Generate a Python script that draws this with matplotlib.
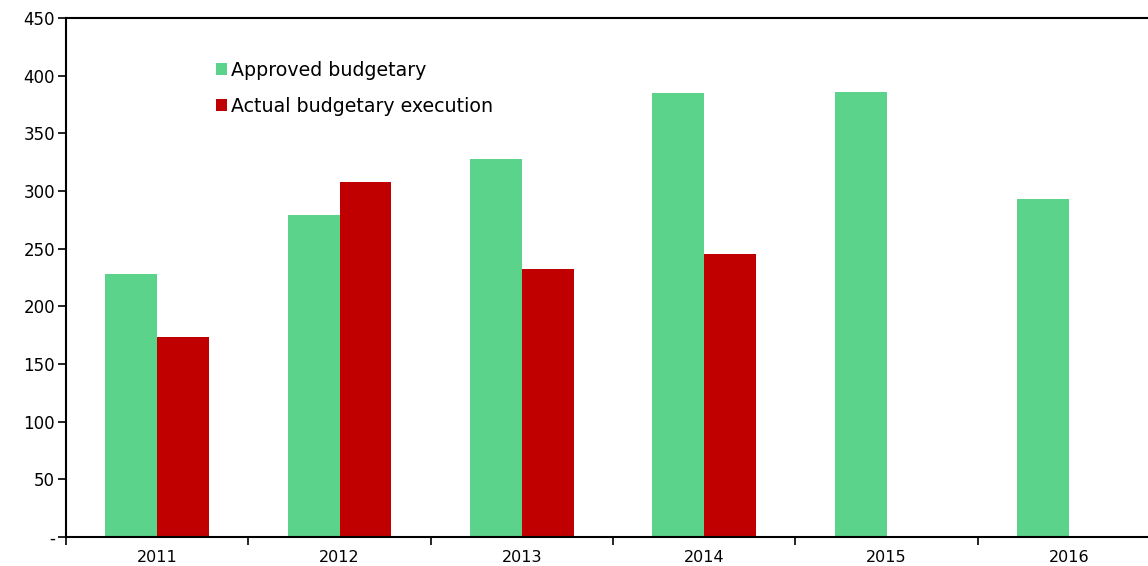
import matplotlib
matplotlib.use("Agg")
import matplotlib.pyplot as plt
import numpy as np

years = ["2011", "2012", "2013", "2014", "2015", "2016"]
approved = [228, 279, 328, 385, 386, 293]
actual = [173, 308, 232, 245, np.nan, np.nan]
series_names = ["Approved budgetary", "Actual budgetary execution"]
yticks = [0, 50, 100, 150, 200, 250, 300, 350, 400, 450]
ytick_labels = ["-", "50", "100", "150", "200", "250", "300", "350", "400", "450"]

plt.rcParams['font.family'] = ['DejaVu Sans']
fig = plt.figure(figsize=(11.48, 5.66), dpi=100)
W, H = 1148, 566
ax = fig.add_axes([66 / W, (H - 537) / H, (1160 - 66) / W, (537 - 18) / H])

x = np.arange(len(years))
bw = 0.285
green = "#5CD38A"
red = "#C00000"
ax.bar(x - bw / 2, approved, bw, color=green, label=series_names[0])
ax.bar(x + bw / 2, actual, bw, color=red, label=series_names[1])

ax.set_xlim(-0.5, len(years) - 0.5)
ax.set_ylim(0, 450)
ax.set_yticks(yticks)
ax.set_yticklabels(ytick_labels, fontsize=12)
ax.set_xticks(x)
ax.set_xticklabels(years, fontsize=11.5)
ax.tick_params(axis='x', which='major', length=0, pad=9.5)
ax.set_xticks(np.arange(-0.5, len(years) + 0.5, 1), minor=True)
ax.tick_params(axis='x', which='minor', length=6, width=1.2, direction='out')
ax.tick_params(axis='y', length=6, width=1.2, direction='out', pad=2)

for s in ['left', 'bottom', 'top']:
    ax.spines[s].set_linewidth(1.5)
ax.spines['right'].set_visible(False)

ax.legend(loc='upper left', bbox_to_anchor=(0.130, 0.932), frameon=False,
          fontsize=13.7, handlelength=0.6, handleheight=0.6,
          handletextpad=0.2, labelspacing=0.9, borderaxespad=0)

fig.savefig("out.png", dpi=100)
